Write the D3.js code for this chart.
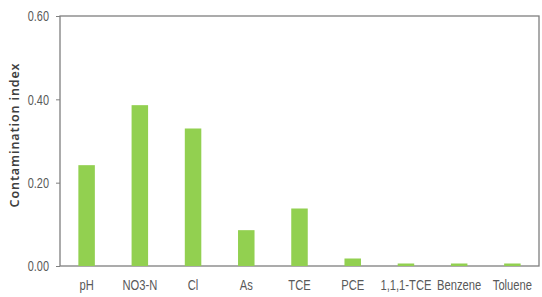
<!DOCTYPE html>
<html>
<head>
<meta charset="utf-8">
<script src="https://cdn.jsdelivr.net/npm/d3@7"></script>
<style>
  body { margin: 0; background: #fff; }
  .tick text { font-family: "Liberation Sans", sans-serif; font-size: 14px; fill: #595959; }
</style>
</head>
<body>
<div class="container"></div>
<script>
var categories = ['pH', 'NO3-N', 'Cl', 'As', 'TCE', 'PCE', '1,1,1-TCE', 'Benzene', 'Toluene'];
var values = [0.242, 0.386, 0.330, 0.086, 0.138, 0.018, 0.006, 0.006, 0.006];
var yTicks = [0, 0.2, 0.4, 0.6];

var width = 542, height = 297;
var padL = 60, padR = 539, padT = 16, padB = 266;

var svg = d3.select('.container')
    .append('svg')
    .attr('width', width)
    .attr('height', height);

var x = d3.scaleBand()
    .domain(categories)
    .range([padL, padR])
    .paddingInner(0.69)
    .paddingOuter(0.345);

var y = d3.scaleLinear()
    .domain([0, 0.6])
    .range([padB, padT]);

// plot frame
svg.append('rect')
    .attr('x', padL)
    .attr('y', padT)
    .attr('width', padR - padL)
    .attr('height', padB - padT)
    .style('fill', 'none')
    .style('stroke', '#7f7f7f')
    .style('stroke-width', 1.3);

svg.selectAll('.bar')
    .data(values)
    .enter()
    .append('rect')
    .attr('class', 'bar')
    .attr('x', (d, i) => x(categories[i]))
    .attr('y', d => y(d))
    .attr('width', x.bandwidth())
    .attr('height', d => padB - y(d))
    .style('fill', '#92d050');

var yAxis = svg.append('g')
    .attr('transform', 'translate(' + padL + ',0)')
    .call(d3.axisLeft(y).tickValues(yTicks).tickFormat(d3.format('.2f')).tickSize(4).tickPadding(11));
yAxis.select('.domain').remove();
yAxis.selectAll('.tick line').style('stroke', '#7f7f7f');
yAxis.selectAll('.tick text')
    .attr('x', 0)
    .attr('dy', '0.35em')
    .attr('transform', 'translate(-11,0) scale(0.78,1)');

var xAxis = svg.append('g')
    .attr('transform', 'translate(0,' + padB + ')')
    .call(d3.axisBottom(x).tickSize(0).tickPadding(14));
xAxis.select('.domain').remove();
xAxis.selectAll('.tick text').attr('transform', 'scale(0.8,1)');

svg.append('text')
    .attr('transform', 'translate(19,' + ((padT + padB) / 2 - 6) + ') rotate(-90)')
    .attr('text-anchor', 'middle')
    .style('font-family', '"Noto Sans", sans-serif')
    .style('font-size', '12.5px')
    .style('font-weight', '600')
    .style('letter-spacing', '0.9px')
    .style('fill', '#404040')
    .text('Contamination index');
</script>
</body>
</html>
